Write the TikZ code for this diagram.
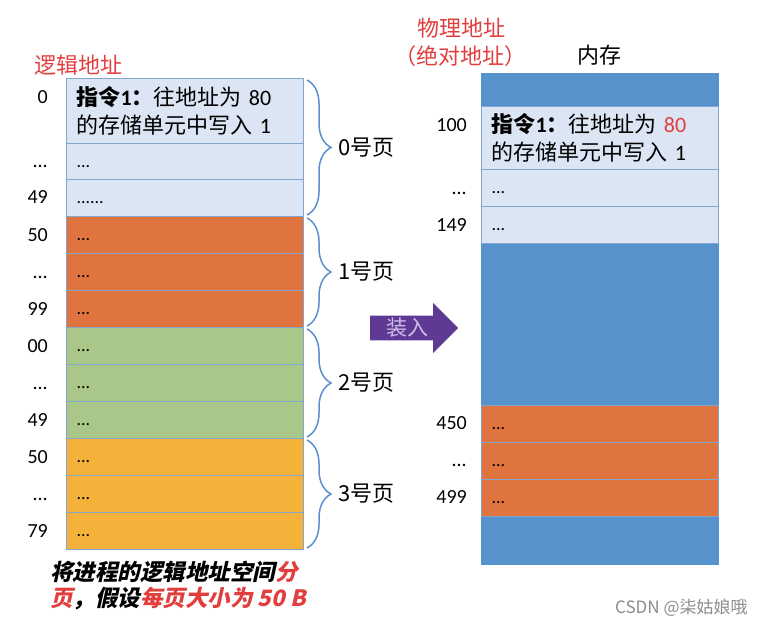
\documentclass[tikz,border=0pt]{standalone}
\usepackage{fontspec}
\setmainfont{Noto Sans CJK SC}
\newfontfamily\slantfont{Noto Sans CJK SC}[FakeSlant = 0.22]
\newfontfamily\numfont{Carlito}
\usepackage{xcolor}
\usepackage{tikz}
\usetikzlibrary{arrows.meta}
\usetikzlibrary{positioning, shapes.arrows, decorations.pathreplacing}
\definecolor{pagezero}{RGB}{219,229,243}
\definecolor{pageone}{RGB}{224,116,64}
\definecolor{pagetwo}{RGB}{168,199,137}
\definecolor{pagethree}{RGB}{245,178,58}
\definecolor{membg}{RGB}{86,146,204}
\definecolor{rowline}{RGB}{132,165,205}
\definecolor{bracecol}{RGB}{91,143,207}
\definecolor{loadpurple}{RGB}{94,58,148}
\definecolor{loadtext}{RGB}{205,190,230}
\definecolor{hlred}{RGB}{226,62,62}
\tikzset{
page cell/.style = { rectangle, draw = rowline, line width = 1pt, minimum width = 237pt, minimum height = 37pt, text width = 217pt, inner xsep = 10pt, inner ysep = 0pt, align = left, anchor = north west, font = \numfont\fontsize{18}{18}\selectfont, text height = 11pt, text depth = 0pt },
instr cell/.style = { rectangle, draw = rowline, line width = 1pt, fill = pagezero, minimum width = 237pt, minimum height = 65pt, text width = 217pt, inner xsep = 10pt, align = left, anchor = north west, font = \fontsize{22}{28}\selectfont },
address/.style = { anchor = east, inner sep = 0pt, font = \numfont\fontsize{20}{20}\selectfont },
title/.style = { inner sep = 0pt, font = \fontsize{22}{22}\selectfont },
page label/.style = { right = 31pt, inner sep = 0pt, font = \fontsize{22}{22}\selectfont },
page brace/.style = { draw = bracecol, line width = 1.5pt, decorate, decoration = { brace, amplitude = 24pt } },
load arrow/.style = { single arrow, fill = loadpurple, draw = none, minimum height = 88pt, minimum width = 50pt, single arrow head extend = 12pt, inner sep = 2pt, text = loadtext, font = \fontsize{21}{21}\selectfont },
}
\begin{document}
\begin{tikzpicture}[x = 1pt, y = -1pt]
    \useasboundingbox (0, 0) rectangle (767, 627);
    % logical address space, split into pages
    \node[title, text = hlred] (lhead) at (78, 65) {逻辑地址};
    \node[instr cell] (p0a) at (66, 78) {\textbf{指令{\numfont 1}：}往地址为 {\numfont 80}\\的存储单元中写入 {\numfont 1}};
    \node[page cell, fill = pagezero] (p0b) at (66, 143) {...};
    \node[page cell, fill = pagezero] (p0c) at (66, 179) {......};
    \node[page cell, fill = pageone] (p1a) at (66, 216) {...};
    \node[page cell, fill = pageone] (p1b) at (66, 253) {...};
    \node[page cell, fill = pageone] (p1c) at (66, 290) {...};
    \node[page cell, fill = pagetwo] (p2a) at (66, 327) {...};
    \node[page cell, fill = pagetwo] (p2b) at (66, 364) {...};
    \node[page cell, fill = pagetwo] (p2c) at (66, 401) {...};
    \node[page cell, fill = pagethree] (p3a) at (66, 438) {...};
    \node[page cell, fill = pagethree] (p3b) at (66, 475) {...};
    \node[page cell, fill = pagethree] (p3c) at (66, 512) {...};
    \node[address] (la0) at (48, 97) {0};
    \node[address] (la1) at (48, 166) {...};
    \node[address] (la2) at (48, 197) {49};
    \node[address] (la3) at (48, 235) {50};
    \node[address] (la4) at (48, 277) {...};
    \node[address] (la5) at (48, 309) {99};
    \node[address] (la6) at (48, 346) {00};
    \node[address] (la7) at (48, 388) {...};
    \node[address] (la8) at (48, 420) {49};
    \node[address] (la9) at (48, 457) {50};
    \node[address] (la10) at (48, 499) {...};
    \node[address] (la11) at (48, 531) {79};
    \draw[page brace] ([shift = {(3pt, -2pt)}]p0a.north east) -- ([shift = {(3pt, 2pt)}]p0c.south east) node[page label, midway] (pg0) {0号页};
    \draw[page brace] ([shift = {(3pt, -2pt)}]p1a.north east) -- ([shift = {(3pt, 2pt)}]p1c.south east) node[page label, midway] (pg1) {1号页};
    \draw[page brace] ([shift = {(3pt, -2pt)}]p2a.north east) -- ([shift = {(3pt, 2pt)}]p2c.south east) node[page label, midway] (pg2) {2号页};
    \draw[page brace] ([shift = {(3pt, -2pt)}]p3a.north east) -- ([shift = {(3pt, 2pt)}]p3c.south east) node[page label, midway] (pg3) {3号页};
    \node[anchor = north west, inner sep = 0pt, align = left, font = \slantfont\bfseries\fontsize{22.5}{26}\selectfont] (caption) at (50, 561) {将进程的逻辑地址空间\textcolor{hlred}{分}\\\textcolor{hlred}{页}，假设\textcolor{hlred}{每页大小为 50 B}};
    % loading
    \node[load arrow, anchor = tail] (load) at (370, 328) {装入};
    % physical memory
    \node[title, text = hlred] (phys) at (461, 28) {物理地址};
    \node[title, text = hlred] (abs) at (460, 56) {（绝对地址）};
    \node[title] (memhead) at (599, 55) {内存};
    \node[rectangle, fill = membg, draw = membg, minimum width = 237pt, minimum height = 491pt, anchor = north west] (mem) at (481, 73) {};
    \node[instr cell, minimum height = 63pt] (m0a) at (481, 106) {\textbf{指令{\numfont 1}：}往地址为 \textcolor{hlred}{\numfont 80}\\的存储单元中写入 {\numfont 1}};
    \node[page cell, fill = pagezero] (m0b) at (481, 169) {...};
    \node[page cell, fill = pagezero] (m0c) at (481, 206) {...};
    \node[page cell, fill = pageone] (m1a) at (481, 405) {...};
    \node[page cell, fill = pageone] (m1b) at (481, 442) {...};
    \node[page cell, fill = pageone] (m1c) at (481, 479) {...};
    \node[address] (ma0) at (467, 125) {100};
    \node[address] (ma1) at (467, 193) {...};
    \node[address] (ma2) at (467, 225) {149};
    \node[address] (ma3) at (467, 423) {450};
    \node[address] (ma4) at (467, 465) {...};
    \node[address] (ma5) at (467, 497) {499};
    \node[anchor = west, inner sep = 0pt, text = black!45, font = \fontsize{17}{17}\selectfont] (mark) at (615, 608) {CSDN @柒姑娘哦};
\end{tikzpicture}
\end{document}
